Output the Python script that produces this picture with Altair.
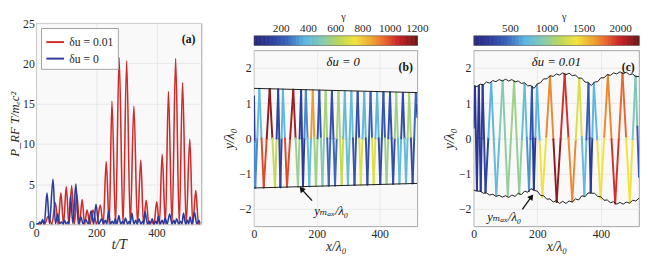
import altair as alt
import numpy as np
import pandas as pd

SERIF = "'Liberation Serif', 'DejaVu Serif', 'Times New Roman', serif"
INK = "#262626"
RED = "#d02a2a"
BLUE = "#2b3b9c"
LAB_RED = "δu = 0.01"
LAB_BLUE = "δu = 0"

# ---------------- panel (a): radiated power vs t/T ----------------
red_t = [0, 12, 20, 28, 40, 52, 64, 73, 82, 91, 100, 109, 118, 127, 135, 144, 153, 161, 169, 179,
         189, 201, 213, 223, 233, 243, 252, 264, 276, 289, 301, 313, 325, 337, 348, 357, 366, 375,
         384, 392, 401, 410, 419, 430, 440, 452, 464, 476, 487, 499, 511, 521, 531, 540, 545]
red_p = [0, 0, 0.3, 0, 1.0, 0, 2.7, 0, 3.9, 0, 4.7, 0, 4.8, 0, 3.8, 0, 3.1, 0, 1.8, 0,
         1.8, 0, 2.4, 0, 7.8, 0, 15.3, 0, 20.7, 0, 20.3, 0, 14.7, 0, 8.0, 0, 3.0, 0,
         0.4, 0, 2.8, 0, 8.7, 0, 16.5, 0, 20.6, 0, 17.6, 0, 10.6, 0, 4.2, 0, 0]

blue_t = [0, 8, 12, 16, 21, 27, 36, 44, 56, 64, 72, 78, 84, 89, 94, 100, 105, 109, 114, 122,
          132, 140, 149, 156, 165, 173, 183, 191, 199, 208, 218, 224, 230, 235, 241, 247, 253,
          258, 263, 269, 275, 281, 288, 292, 297, 304, 310, 313, 318, 325, 331, 336, 342, 348,
          355, 358, 362, 370, 376, 380, 386, 392, 398, 402, 406, 413, 419, 424, 429, 436, 444,
          452, 458, 462, 467, 474, 480, 485, 490, 497, 503, 507, 512, 518, 527, 534, 541, 545]
blue_p = [0.05, 0.1, 0.3, 0.05, 0.6, 0.05, 3.9, 0.1, 5.6, 0.1, 1.3, 0.1, 0.3, 0.05, 0.5, 0.05, 0.3, 0.05, 3.6, 0.1,
          5.0, 0.05, 0.9, 0.05, 0.6, 0.05, 1.7, 0.05, 2.5, 0.05, 0.7, 0.05, 0.5, 0.05, 1.7, 0.05, 0.4,
          0.05, 0.7, 0.05, 1.1, 0.05, 0.4, 0.05, 0.8, 0.05, 0.4, 0.05, 1.4, 0.05, 0.5, 0.05, 0.7, 0.05,
          0.4, 0.05, 1.6, 0.05, 0.4, 0.05, 0.7, 0.05, 0.4, 0.05, 1.0, 0.05, 0.5, 0.05, 0.8, 0.05, 1.3,
          0.05, 0.5, 0.05, 0.7, 0.05, 0.4, 0.05, 1.4, 0.05, 0.5, 0.05, 0.9, 0.05, 1.5, 0.05, 0.5, 0.1]

# ---------------- colormap for gamma ----------------
CMAP_POS = [0.0, 0.10, 0.20, 0.31, 0.42, 0.52, 0.62, 0.72, 0.80, 0.88, 1.0]
CMAP_COL = ["#272a7c", "#2c3c9a", "#3a62b8", "#5cb6e2", "#86cab0", "#bcd65a",
            "#f1e33c", "#f0a432", "#e8662e", "#cc2428", "#6c1616"]

# ---------------- panel (b): delta u = 0 ----------------
GMAX_B = 1200
TICKS_B = [200, 400, 600, 800, 1000, 1200]
b_x = [0, 4, 17, 31, 50, 67, 77, 84, 92, 105, 125, 140, 150, 156, 165, 176, 187, 197, 208, 218,
       228, 238, 248, 258, 269, 279, 289, 299, 310, 320, 330, 340, 351, 361, 371, 381, 392, 402,
       412, 422, 433, 443, 453, 463, 474, 484, 494, 505, 515, 520]
b_y = [1.2, -1.40, 1.41, -1.40, 1.40, -1.40, 1.39, -1.39, 1.39, -1.38, 1.38, -1.38, 1.37, -1.37,
       1.37, -1.36, 1.36, -1.35, 1.35, -1.35, 1.35, -1.34, 1.34, -1.34, 1.34, -1.33, 1.33, -1.33,
       1.33, -1.32, 1.32, -1.32, 1.32, -1.31, 1.31, -1.31, 1.31, -1.30, 1.30, -1.30, 1.30, -1.29,
       1.29, -1.29, 1.29, -1.28, 1.28, -1.28, 1.28, 0.6]
b_g = [100, 300, 400, 1000, 1150, 650, 150, 150, 380, 1000, 1120, 550, 130, 120, 300, 400, 880, 560,
       200, 500, 580, 250, 180, 250, 580, 650, 400, 420, 400, 200, 180, 700, 380, 180, 230, 700, 380,
       170, 200, 560, 180, 180, 560, 400, 170, 400, 580, 180, 250, 150]
env_b_x = [0, 520]
env_b_top = [1.42, 1.30]
env_b_bot = [-1.41, -1.28]

# ---------------- panel (c): delta u = 0.01 ----------------
GMAX_C = 2250
TICKS_C = [500, 1000, 1500, 2000]
c_x = [0, 4, 10, 16, 22, 28, 37, 55, 71, 91, 107, 127, 143, 160, 174, 183, 189, 199, 216, 240,
       261, 286, 310, 332, 348, 361, 368, 378, 399, 422, 445, 468, 491, 509, 520]
c_y = [0.3, 1.47, -1.47, 1.49, -1.50, 1.51, -1.53, 1.58, -1.61, 1.64, -1.64, 1.63, -1.59, 1.54,
       -1.50, 1.46, -1.45, 1.52, -1.67, 1.76, -1.81, 1.82, -1.79, 1.71, -1.62, 1.55, -1.53, 1.57,
       -1.71, 1.80, -1.85, 1.85, -1.83, 1.78, -1.1]
c_g = [150, 150, 180, 160, 200, 220, 260, 700, 750, 950, 1000, 1050, 1000, 750, 600, 350, 200,
       700, 1400, 1700, 2150, 1950, 1700, 1300, 750, 400, 200, 700, 1400, 1700, 1950, 1800, 1400,
       900, 400]
env_c_x = list(range(0, 521, 10))
env_c_top = [1.50, 1.47, 1.54, 1.52, 1.60, 1.57, 1.64, 1.61, 1.67, 1.63, 1.68, 1.63, 1.67, 1.60,
             1.63, 1.56, 1.58, 1.49, 1.50, 1.42, 1.55, 1.58, 1.69, 1.69, 1.78, 1.76, 1.83, 1.80,
             1.86, 1.81, 1.85, 1.78, 1.80, 1.71, 1.71, 1.60, 1.59, 1.50, 1.60, 1.61, 1.72, 1.72,
             1.81, 1.79, 1.86, 1.83, 1.89, 1.84, 1.88, 1.81, 1.83, 1.75, 1.76]
env_c_bot = [-1.47, -1.50, -1.50, -1.56, -1.55, -1.61, -1.59, -1.65, -1.62, -1.67, -1.63, -1.68,
             -1.61, -1.65, -1.56, -1.60, -1.50, -1.53, -1.43, -1.48, -1.50, -1.62, -1.63, -1.73,
             -1.72, -1.81, -1.77, -1.85, -1.79, -1.85, -1.78, -1.81, -1.72, -1.75, -1.63, -1.66,
             -1.55, -1.56, -1.56, -1.65, -1.66, -1.76, -1.75, -1.83, -1.80, -1.87, -1.82, -1.87,
             -1.81, -1.84, -1.76, -1.78, -1.70]

NOVIEW = alt.ViewBackground(stroke="transparent", fill="transparent")


def gamma_scale(gmax):
    return alt.Scale(domain=[p * gmax for p in CMAP_POS], range=CMAP_COL,
                     interpolate="rgb", clamp=True)


def half_segments(xs, ys, gs):
    rows = []
    for i in range(len(xs) - 1):
        xm = (xs[i] + xs[i + 1]) / 2
        ym = (ys[i] + ys[i + 1]) / 2
        rows.append(dict(x=xs[i], y=ys[i], x2=xm, y2=ym, g=gs[i]))
        rows.append(dict(x=xm, y=ym, x2=xs[i + 1], y2=ys[i + 1], g=gs[i + 1]))
    return pd.DataFrame(rows)


def colorbar(gmax, ticks, width):
    edges = np.linspace(0, gmax, 121)
    df = pd.DataFrame({"v0": edges[:-1], "v1": edges[1:] + gmax / 300,
                       "vm": (edges[:-1] + edges[1:]) / 2})
    xs = alt.Scale(domain=[0, gmax], nice=False)
    bar = alt.Chart(df).mark_rect().encode(
        x=alt.X("v0:Q", scale=xs, axis=None), x2="v1:Q",
        y=alt.value(13), y2=alt.value(23),
        color=alt.Color("vm:Q", scale=gamma_scale(gmax), legend=None))
    frame = alt.Chart(pd.DataFrame({"v0": [0], "v1": [gmax]})).mark_rect(
        fill="transparent", stroke="#555555", strokeWidth=0.6).encode(
        x=alt.X("v0:Q", scale=xs, axis=None), x2="v1:Q", y=alt.value(13), y2=alt.value(23))
    labels = alt.Chart(pd.DataFrame({"v": ticks, "txt": [str(t) for t in ticks]})).mark_text(
        font=SERIF, fontSize=11.5, baseline="bottom", color=INK).encode(
        x=alt.X("v:Q", scale=xs, axis=None), y=alt.value(11), text="txt:N")
    gam = alt.Chart(pd.DataFrame({"txt": ["γ"]})).mark_text(
        font=SERIF, fontSize=10.5, baseline="bottom", color=INK).encode(
        x=alt.value(width / 2 + 8), y=alt.value(-1), text="txt:N")
    return alt.layer(bar, frame, labels, gam).properties(width=width, height=23, view=NOVIEW)


def text_layer(xs, ys, texts, size=12, weight="normal", style="normal"):
    df = pd.DataFrame({"x": xs, "y": ys, "txt": texts})
    return alt.Chart(df).mark_text(font=SERIF, fontSize=size, fontWeight=weight,
                                   fontStyle=style, color="#111").encode(
        x="x:Q", y="y:Q", text="txt:N")


def arrow(x_tail, y_tail, x_head, y_head, angle):
    df = pd.DataFrame({"x": [x_tail], "y": [y_tail], "x2": [x_head], "y2": [y_head]})
    shaft = alt.Chart(df).mark_rule(color="#111", strokeWidth=1.3).encode(
        x="x:Q", y="y:Q", x2="x2:Q", y2="y2:Q")
    head = alt.Chart(df).mark_point(shape="triangle", filled=True, size=45, angle=angle,
                                    color="#111", opacity=1).encode(x="x2:Q", y="y2:Q")
    return [shaft, head]


# ---------- build panel (a)
df_red = pd.DataFrame({"t": red_t, "P": red_p, "s": LAB_RED})
df_blue = pd.DataFrame({"t": blue_t, "P": blue_p, "s": LAB_BLUE})
color_a = alt.Color("s:N", scale=alt.Scale(domain=[LAB_RED, LAB_BLUE], range=[RED, BLUE]),
                    legend=alt.Legend(title=None, orient="top-left", offset=5, fillColor="white",
                                      strokeColor="#a0a0a0", padding=4, symbolType="stroke",
                                      symbolStrokeWidth=2, symbolSize=330, labelFont=SERIF,
                                      labelFontSize=12, labelColor=INK, rowPadding=0))
xa = alt.X("t:Q", scale=alt.Scale(domain=[0, 550], nice=False),
           axis=alt.Axis(values=[0, 200, 400], title="t/T"))
ya = alt.Y("P:Q", scale=alt.Scale(domain=[0, 25], nice=False),
           axis=alt.Axis(values=[0, 5, 10, 15, 20, 25], title="P_RF T/mₑc²",
                         titleFontSize=13, titlePadding=1, labelPadding=2))
red_line = alt.Chart(df_red).mark_line(strokeWidth=1.6, interpolate="monotone", clip=True).encode(
    x=xa, y=ya, color=color_a)
blue_line = alt.Chart(df_blue).mark_line(strokeWidth=1.6, interpolate="monotone", clip=True).encode(
    x=xa, y=ya, color=color_a)
lab_a = alt.Chart(pd.DataFrame({"t": [507], "P": [23.0], "txt": ["(a)"]})).mark_text(
    font=SERIF, fontSize=12, fontWeight="bold", color="#111").encode(x="t:Q", y="P:Q", text="txt:N")
panel_a = alt.layer(red_line, blue_line, lab_a).properties(width=170, height=207)


def traj_panel(xs, ys, gs, gmax, env_layers, texts, arr, width):
    seg = half_segments(xs, ys, gs)
    xe = alt.X("x:Q", scale=alt.Scale(domain=[0, 520], nice=False),
               axis=alt.Axis(values=[0, 200, 400], title="x/λ₀"))
    ye = alt.Y("y:Q", scale=alt.Scale(domain=[-2.5, 2.5], nice=False),
               axis=alt.Axis(values=[-2, -1, 0, 1, 2], title="y/λ₀", titlePadding=2))
    traj = alt.Chart(seg).mark_rule(strokeWidth=2, strokeCap="round", clip=True).encode(
        x=xe, y=ye, x2="x2:Q", y2="y2:Q",
        color=alt.Color("g:Q", scale=gamma_scale(gmax), legend=None))
    layers = [traj] + env_layers + texts + arr
    return alt.layer(*layers).properties(width=width, height=181)


def env_layer(xs, top, bot):
    df = pd.concat([pd.DataFrame({"x": xs, "y": top, "side": "top"}),
                    pd.DataFrame({"x": xs, "y": bot, "side": "bot"})])
    return alt.Chart(df).mark_line(color="#1a1a1a", strokeWidth=1, clip=True).encode(
        x="x:Q", y="y:Q", detail="side:N")


plot_b = traj_panel(
    b_x, b_y, b_g, GMAX_B,
    [env_layer(env_b_x, env_b_top, env_b_bot)],
    [text_layer([284], [2.17], ["δu = 0"], size=13, style="italic"),
     text_layer([483], [2.03], ["(b)"], size=12, weight="bold"),
     text_layer([246], [-2.07], ["yₘₐₓ/λ₀"], size=13, style="italic")],
    arrow(185, -1.77, 153, -1.46, 320), 168)

plot_c = traj_panel(
    c_x, c_y, c_g, GMAX_C,
    [env_layer(env_c_x, env_c_top, env_c_bot)],
    [text_layer([260], [2.17], ["δu = 0.01"], size=13, style="italic"),
     text_layer([486], [2.03], ["(c)"], size=12, weight="bold"),
     text_layer([96], [-2.25], ["yₘₐₓ/λ₀"], size=13, style="italic")],
    arrow(153, -2.02, 180, -1.68, 36), 170)

panel_b = alt.vconcat(colorbar(GMAX_B, TICKS_B, 168), plot_b,
                      spacing=3).resolve_scale(x="independent", color="independent")
panel_c = alt.vconcat(colorbar(GMAX_C, TICKS_C, 170), plot_c,
                      spacing=3).resolve_scale(x="independent", color="independent")

bc = alt.hconcat(panel_b, panel_c, spacing=13).resolve_scale(
    x="independent", y="independent", color="independent")

chart = alt.hconcat(panel_a, bc, spacing=20).resolve_scale(
    x="independent", y="independent", color="independent"
).configure(
    padding={"left": 0, "top": 0, "right": 0, "bottom": 0}
).configure_view(
    stroke="#8c8c8c", strokeWidth=0.8, fill="#f9f9f9"
).configure_axis(
    labelFont=SERIF, labelFontSize=12, labelColor=INK, titleFont=SERIF, titleFontSize=14,
    titleFontStyle="italic", titleFontWeight="normal", titleColor=INK, ticks=False,
    domain=False, gridColor="#e4e4e4", gridWidth=0.8, labelPadding=3, labelFlush=False,
    titlePadding=0
).configure_title(font=SERIF)

chart.save("out.html", embed_options={"renderer": "svg", "actions": False})
